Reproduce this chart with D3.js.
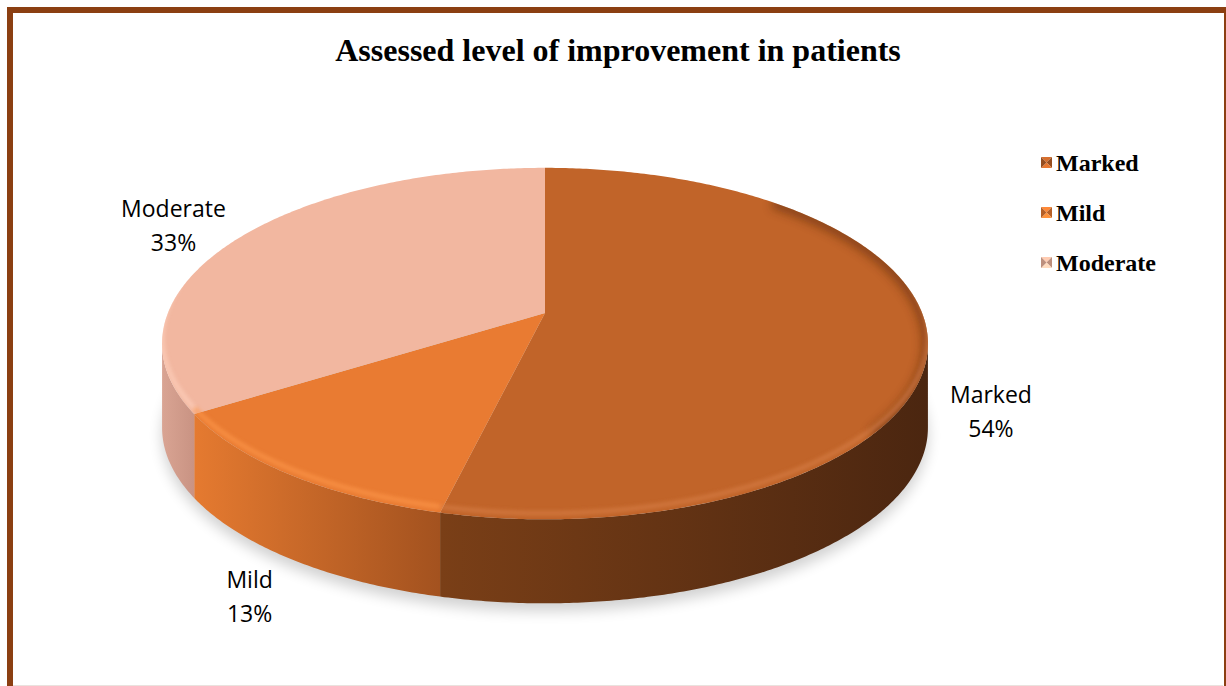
<!DOCTYPE html>
<html>
<head>
<meta charset="utf-8">
<script src="https://cdn.jsdelivr.net/npm/d3@7"></script>
<style>
  body { margin: 0; background: #fff; }
</style>
</head>
<body>
<div id="chart"></div>
<script>
// data
var categories = ["Marked", "Mild", "Moderate"];
var values = [54, 13, 33];
var chartTitle = "Assessed level of improvement in patients";

// palette (top face, side light, side dark)
var topColors = ["#C16429", "#E97B32", "#F2B7A0"];
var sideLight = ["#7A3F17", "#E57A30", "#D9A493"];
var sideDark = ["#4B2610", "#A3521F", "#C99383"];

var svgWidth = 1226;
var svgHeight = 686;

// pie geometry (perspective ellipse)
var CX = 545, CY = 326;
var RA = 381, RB = 174; // horizontal / vertical radii
var K = 0.1;            // perspective factor
var H = 84;             // thickness
var apex = [545, 313];  // where slices meet on the top face

function proj(theta, f, dz) {
    var c = Math.cos(theta), s = Math.sin(theta), w = 1 + K * c;
    return [CX + RA * f * s / w, CY - RB * f * c / w + (dz || 0)];
}

function arcPts(a0, a1, dz) {
    var n = Math.max(2, Math.ceil(Math.abs(a1 - a0) / 0.01));
    var pts = [];
    for (var i = 0; i <= n; i++) {
        pts.push(proj(a0 + (a1 - a0) * i / n, 1, dz));
    }
    return pts;
}

var line = d3.line();

var svg = d3.select("#chart")
    .append("svg")
    .attr("width", svgWidth)
    .attr("height", svgHeight);

var defs = svg.append("defs");
defs.append("filter").attr("id", "blur8")
    .attr("x", "-20%").attr("y", "-20%").attr("width", "140%").attr("height", "140%")
    .append("feGaussianBlur").attr("stdDeviation", 7);
defs.append("filter").attr("id", "blur2")
    .attr("x", "-10%").attr("y", "-10%").attr("width", "120%").attr("height", "120%")
    .append("feGaussianBlur").attr("stdDeviation", 2);
defs.append("filter").attr("id", "blur5")
    .attr("x", "-20%").attr("y", "-20%").attr("width", "140%").attr("height", "140%")
    .append("feGaussianBlur").attr("stdDeviation", 5);

// chart border (cut off on the right and bottom like the source)
svg.append("rect")
    .attr("x", 10).attr("y", 10)
    .attr("width", 1217).attr("height", 700)
    .attr("fill", "none")
    .attr("stroke", "#8B3F12")
    .attr("stroke-width", 6);
svg.append("line")
    .attr("x1", 13).attr("x2", 1223).attr("y1", 685.5).attr("y2", 685.5)
    .attr("stroke", "#EAE2DE").attr("stroke-width", 1);

// title
svg.append("text")
    .attr("x", 618)
    .attr("y", 61)
    .attr("text-anchor", "middle")
    .style("font-family", "'Liberation Serif', 'Times New Roman', serif")
    .style("font-weight", "bold")
    .style("font-size", "32px")
    .text(chartTitle);

var pieData = d3.pie().sort(null).value(function(d) { return d; })(values);
var total = d3.sum(values);

var pieGroup = svg.append("g");

// soft shadow under the pie
pieGroup.append("path")
    .attr("d", line(arcPts(0, 2 * Math.PI, H + 8)) + "Z")
    .attr("fill", "#000")
    .attr("opacity", 0.18)
    .attr("filter", "url(#blur8)");

// visible front range of the rim
var frontStart = Math.acos(-K);
var frontEnd = 2 * Math.PI - frontStart;

// sides
pieData.forEach(function(d, i) {
    var a0 = Math.max(d.startAngle, frontStart);
    var a1 = Math.min(d.endAngle, frontEnd);
    if (a1 <= a0) return;
    var top = arcPts(a0, a1, 0);
    var bottom = arcPts(a1, a0, H);
    var xs = top.map(function(p) { return p[0]; });
    var gid = "side" + i;
    var g = defs.append("linearGradient").attr("id", gid)
        .attr("gradientUnits", "userSpaceOnUse")
        .attr("x1", d3.min(xs)).attr("x2", d3.max(xs))
        .attr("y1", 0).attr("y2", 0);
    g.append("stop").attr("offset", "0%").attr("stop-color", sideLight[i]);
    g.append("stop").attr("offset", "100%").attr("stop-color", sideDark[i]);
    pieGroup.append("path")
        .attr("d", line(top.concat(bottom)) + "Z")
        .attr("fill", "url(#" + gid + ")");
});

// top faces
var tops = pieGroup.append("g");
pieData.forEach(function(d, i) {
    var pts = [apex].concat(arcPts(d.startAngle, d.endAngle, 0));
    tops.append("path")
        .attr("d", line(pts) + "Z")
        .attr("fill", topColors[i]);
});

// clip for bevel shading so it stays on the top face
defs.append("clipPath").attr("id", "topClip")
    .append("path")
    .attr("d", line(arcPts(0, 2 * Math.PI, 0)) + "Z");

var bevel = pieGroup.append("g").attr("clip-path", "url(#topClip)");

// dark bevel on the right of the big slice
bevel.append("path")
    .attr("d", line(arcPts(0.7, 2.2, 0)))
    .attr("fill", "none")
    .attr("stroke", "#5E2C10")
    .attr("stroke-width", 12)
    .attr("opacity", 0.55)
    .attr("filter", "url(#blur5)");

// bevel highlight along the front rim
pieData.forEach(function(d, i) {
    var a0 = Math.max(d.startAngle, frontStart - 0.3);
    var a1 = Math.min(d.endAngle, frontEnd + 0.3);
    if (a1 <= a0) return;
    var rim = arcPts(a0, a1, -6);
    bevel.append("path")
        .attr("d", line(rim))
        .attr("fill", "none")
        .attr("stroke", i === 0 ? "#D88048" : (i === 1 ? "#FF9A4E" : "#FFD3C0"))
        .attr("stroke-width", 4)
        .attr("opacity", 0.75)
        .attr("filter", "url(#blur2)");
});

// data labels
var labelFont = "'Open Sans', 'Noto Sans', sans-serif";
pieData.forEach(function(d, i) {
    var mid = (d.startAngle + d.endAngle) / 2;
    var c = Math.cos(mid);
    var front = Math.max(0, Math.min(1.15, (0.5 - c) * 1.15));
    var f = 1.165 + 0.05 * Math.max(0, c);
    var p = proj(mid, f, H * front);
    var lbl = svg.append("text")
        .attr("text-anchor", "middle")
        .style("font-family", labelFont)
        .style("font-size", "23px")
        .style("fill", "#000");
    lbl.append("tspan").attr("x", p[0]).attr("y", p[1] - 9).text(categories[i]);
    lbl.append("tspan").attr("x", p[0]).attr("y", p[1] + 25)
        .text(Math.round(values[i] / total * 100) + "%");
});

// legend
var legend = svg.append("g").attr("transform", "translate(1041, 163)");
categories.forEach(function(name, i) {
    var row = legend.append("g").attr("transform", "translate(0," + (i * 50) + ")");
    var s = 11, x0 = 0, y0 = -6, cx = x0 + s / 2, cy = y0 + s / 2;
    var col = d3.color(topColors[i]);
    var tris = [
        [[x0, y0], [x0 + s, y0], [cx, cy], col.brighter(0.3)],
        [[x0 + s, y0], [x0 + s, y0 + s], [cx, cy], col.darker(0.7)],
        [[x0 + s, y0 + s], [x0, y0 + s], [cx, cy], col.brighter(0.5)],
        [[x0, y0 + s], [x0, y0], [cx, cy], col.darker(0.7)]
    ];
    tris.forEach(function(t) {
        row.append("path")
            .attr("d", line([t[0], t[1], t[2]]) + "Z")
            .attr("fill", t[3]);
    });
    row.append("text")
        .attr("x", 15)
        .attr("y", 8)
        .style("font-family", "'Liberation Serif', 'Times New Roman', serif")
        .style("font-weight", "bold")
        .style("font-size", "24px")
        .text(name);
});
</script>
</body>
</html>
